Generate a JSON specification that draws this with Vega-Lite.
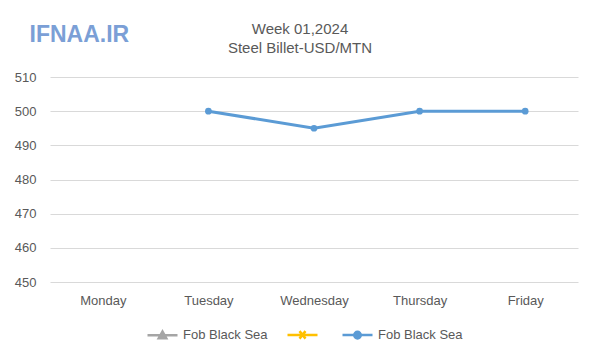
{
  "$schema": "https://vega.github.io/schema/vega-lite/v6.json",
  "autosize": {"type": "none"},
  "width": 528,
  "height": 205,
  "padding": {"left": 50, "top": 77, "right": 22, "bottom": 78},
  "background": "white",
  "config": {"view": {"stroke": null}},
  "title": {
    "text": ["Week 01,2024", "Steel Billet-USD/MTN"],
    "font": "Liberation Sans",
    "fontSize": 15,
    "fontWeight": "normal",
    "color": "#595959",
    "lineHeight": 19,
    "anchor": "middle",
    "dx": -14,
    "offset": -33
  },
  "data": {
    "values": [
      {"day": "Monday", "series": "C", "price": null},
      {"day": "Tuesday", "series": "C", "price": 500},
      {"day": "Wednesday", "series": "C", "price": 495},
      {"day": "Thursday", "series": "C", "price": 500},
      {"day": "Friday", "series": "C", "price": 500}
    ]
  },
  "encoding": {
    "x": {
      "field": "day",
      "type": "ordinal",
      "sort": ["Monday", "Tuesday", "Wednesday", "Thursday", "Friday"],
      "scale": {"type": "point", "padding": 0.5},
      "axis": {
        "title": null,
        "labelAngle": 0,
        "domain": false,
        "ticks": false,
        "grid": false,
        "labelPadding": 12,
        "labelFont": "Liberation Sans",
        "labelFontSize": 13,
        "labelColor": "#595959"
      }
    },
    "y": {
      "field": "price",
      "type": "quantitative",
      "scale": {"domain": [450, 510], "nice": false, "zero": false},
      "axis": {
        "values": [450, 460, 470, 480, 490, 500, 510],
        "title": "IFNAA.IR",
        "titleAngle": 0,
        "titleX": -21,
        "titleY": -43,
        "titleAlign": "left",
        "titleBaseline": "middle",
        "titleFont": "Liberation Sans",
        "titleFontSize": 23,
        "titleFontWeight": "bold",
        "titleColor": "#7b9fd6",
        "domain": false,
        "ticks": false,
        "labelPadding": 14,
        "labelFont": "Liberation Sans",
        "labelFontSize": 13,
        "labelColor": "#595959",
        "gridColor": "#d9d9d9",
        "gridWidth": 1
      }
    }
  },
  "layer": [
    {
      "mark": {"type": "line", "strokeWidth": 3},
      "encoding": {
        "color": {
          "field": "series",
          "type": "nominal",
          "scale": {"domain": ["A", "B", "C"], "range": ["#a5a5a5", "#ffc000", "#5b9bd5"]},
          "legend": {
            "orient": "none",
            "direction": "horizontal",
            "legendX": 96,
            "legendY": 241,
            "title": null,
            "labelExpr": "datum.value === 'B' ? '' : 'Fob Black Sea'",
            "labelFont": "Liberation Sans",
            "labelFontSize": 13,
            "labelColor": "#595959",
            "labelOffset": 4,
            "symbolSize": 900,
            "symbolStrokeWidth": 2.5,
            "columnPadding": 14,
            "encode": {
              "symbols": {
                "update": {
                  "shape": {"signal": "datum.value === 'A' ? 'M-1,0H1M0,-0.25L0.25,0.2L-0.25,0.2Z' : datum.value === 'B' ? 'M-1,0H1M-0.2,-0.25L0.2,0.25M0.2,-0.25L-0.2,0.25' : 'M-1,0H1M0.22,0A0.22,0.22 0 1 1 -0.22,0A0.22,0.22 0 1 1 0.22,0Z'"},
                  "fill": {"signal": "datum.value === 'A' ? '#a5a5a5' : datum.value === 'B' ? '#ffc000' : '#5b9bd5'"},
                  "stroke": {"signal": "datum.value === 'A' ? '#a5a5a5' : datum.value === 'B' ? '#ffc000' : '#5b9bd5'"},
                  "strokeWidth": {"value": 2.5},
                  "opacity": {"value": 1}
                }
              }
            }
          }
        }
      }
    },
    {
      "mark": {"type": "point", "filled": true, "shape": "circle", "size": 45, "opacity": 1, "color": "#5b9bd5"},
      "encoding": {}
    }
  ]
}
